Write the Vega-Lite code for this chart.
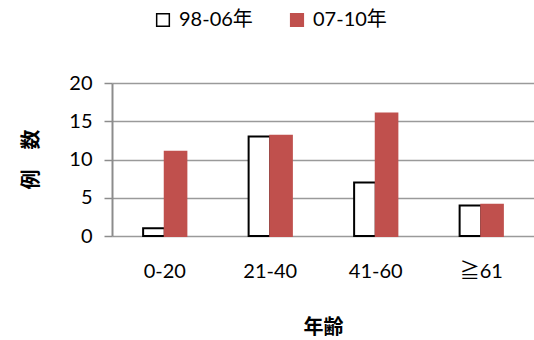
{
  "$schema": "https://vega.github.io/schema/vega-lite/v6.json",
  "width": 422,
  "height": 153,
  "autosize": {"type": "none"},
  "padding": {"left": 112, "top": 83, "right": 0, "bottom": 104},
  "background": "white",
  "config": {
    "font": "Lato, Noto Sans CJK JP",
    "view": {"stroke": null}
  },
  "data": {
    "values": [
      {"age": "0-20", "period": "98-06年", "count": 1},
      {"age": "0-20", "period": "07-10年", "count": 11},
      {"age": "21-40", "period": "98-06年", "count": 13},
      {"age": "21-40", "period": "07-10年", "count": 13.1},
      {"age": "41-60", "period": "98-06年", "count": 7},
      {"age": "41-60", "period": "07-10年", "count": 16},
      {"age": "≧61", "period": "98-06年", "count": 4},
      {"age": "≧61", "period": "07-10年", "count": 4.1}
    ]
  },
  "mark": {"type": "bar", "strokeWidth": 2},
  "encoding": {
    "x": {
      "field": "age",
      "type": "nominal",
      "sort": ["0-20", "21-40", "41-60", "≧61"],
      "scale": {"paddingInner": 0.59, "paddingOuter": 0.295},
      "axis": {
        "title": "年齢",
        "titleFont": "Noto Sans CJK JP",
        "titleFontWeight": "bold",
        "titleFontSize": 20,
        "titleColor": "black",
        "titleY": 91,
        "titleBaseline": "middle",
        "labelAngle": 0,
        "labelFontSize": 20,
        "labelColor": "black",
        "labelPadding": 25,
        "ticks": false,
        "domain": false,
        "grid": false
      }
    },
    "xOffset": {
      "field": "period",
      "type": "nominal",
      "sort": ["98-06年", "07-10年"],
      "scale": {"paddingInner": 0, "paddingOuter": 0}
    },
    "y": {
      "field": "count",
      "type": "quantitative",
      "scale": {"domain": [0, 20]},
      "axis": {
        "values": [0, 5, 10, 15, 20],
        "title": "例　数",
        "titleFont": "Noto Sans CJK JP",
        "titleFontWeight": "bold",
        "titleFontSize": 20,
        "titleColor": "black",
        "titleX": -81,
        "titleY": 76,
        "titleAngle": -90,
        "titleAlign": "center",
        "titleBaseline": "middle",
        "labelFontSize": 20,
        "labelColor": "black",
        "labelPadding": 12,
        "tickSize": 8,
        "tickColor": "#8c8c8c",
        "tickWidth": 1.5,
        "domainColor": "#8c8c8c",
        "domainWidth": 2,
        "gridColor": "#9a9a9a",
        "gridWidth": 1.5
      }
    },
    "fill": {
      "field": "period",
      "type": "nominal",
      "sort": ["98-06年", "07-10年"],
      "scale": {"domain": ["98-06年", "07-10年"], "range": ["white", "#C0504D"]},
      "legend": {
        "title": null,
        "orient": "none",
        "direction": "horizontal",
        "legendX": 41,
        "legendY": -73,
        "symbolType": "square",
        "symbolSize": 160,
        "symbolStrokeWidth": 1.5,
        "labelFontSize": 20,
        "labelColor": "black",
        "labelOffset": 6,
        "labelExpr": "datum.label == '07-10年' ? '  ' + datum.label : datum.label",
        "columnPadding": 34
      }
    },
    "stroke": {
      "field": "period",
      "type": "nominal",
      "sort": ["98-06年", "07-10年"],
      "scale": {"domain": ["98-06年", "07-10年"], "range": ["black", "#C0504D"]},
      "legend": null
    }
  }
}
